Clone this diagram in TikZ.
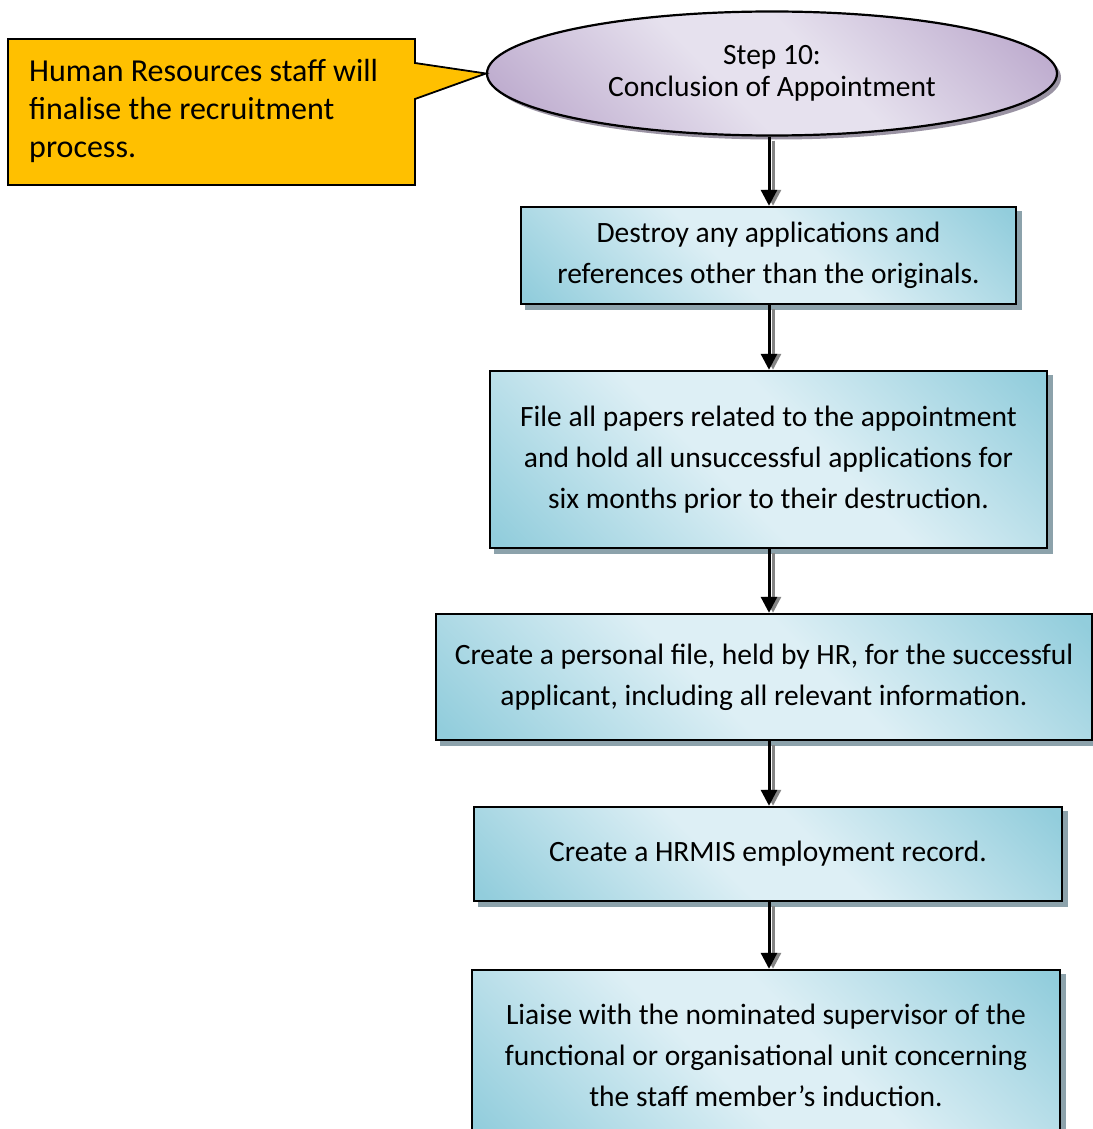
\documentclass[tikz,border=0pt]{standalone}
\usepackage{fontspec}
\setmainfont{Carlito}
\usetikzlibrary{shapes.geometric,arrows.meta,backgrounds}

\definecolor{boxlight}{HTML}{DDEFF5}
\definecolor{boxdark}{HTML}{92CDDC}
\definecolor{boxshadow}{HTML}{8CA2AB}
\definecolor{ovallight}{HTML}{E6E1EE}
\definecolor{ovaldark}{HTML}{BBA8CC}
\definecolor{ovalshadow}{HTML}{9A93A3}
\definecolor{calloutfill}{HTML}{FFC000}
\definecolor{arrowshadow}{HTML}{858585}

% diagonal two-colour fills, dark at both ends and light in the middle
\pgfdeclarehorizontalshading{boxshade}{100bp}{color(0bp)=(boxdark); color(16bp)=(boxdark);
  color(44bp)=(boxlight); color(56bp)=(boxlight); color(84bp)=(boxdark); color(100bp)=(boxdark)}
\pgfdeclarehorizontalshading{ovalshade}{100bp}{color(0bp)=(ovaldark); color(18bp)=(ovaldark);
  color(44bp)=(ovallight); color(56bp)=(ovallight); color(82bp)=(ovaldark); color(100bp)=(ovaldark)}

\tikzset{
  x=1pt, y=1pt,
  stepbox/.style={rectangle, draw=black, line width=2.4pt,
    shading=boxshade, shading angle=45, align=center, inner sep=0pt,
    font=\fontsize{29.5}{41}\selectfont},
  oval/.style={ellipse, draw=black, line width=2.2pt,
    shading=ovalshade, shading angle=45, align=center, inner sep=0pt,
    font=\fontsize{29.5}{32}\selectfont},
  flow/.style={line width=3pt, -{Triangle[width=16pt,length=16pt]}},
  flowshadow/.style={draw=arrowshadow, line width=3pt,
    -{Triangle[width=16pt,length=16pt]}},
}

% shadow behind a box: same outline, moved down and to the right
\newcommand{\castshadow}[2]{%
  \begin{pgfonlayer}{background}
    \fill[#2] ([shift={(5,-5)}]#1.south west) rectangle ([shift={(5,-5)}]#1.north east);
  \end{pgfonlayer}}

% connector with its grey shadow
\newcommand{\linkboxes}[2]{%
  \draw[flowshadow] ([xshift=4,yshift=-4]#1.south -| col) -- ([xshift=4]#2.north -| col);
  \draw[flow] (#1.south -| col) -- (#2.north -| col);}

\begin{document}
\begin{tikzpicture}
  \useasboundingbox (0,0) rectangle (1092,-1129);
  \coordinate (col) at (769,0);

  % start of the step
  \node[oval, minimum width=570, minimum height=124] (st) at (772,-73.5)
    {Step 10:\\Conclusion of Appointment};
  \begin{pgfonlayer}{background}
    \fill[ovalshadow] ([shift={(4,-4)}]st.center) ellipse [x radius=285, y radius=62];
  \end{pgfonlayer}

  % callout
  \coordinate (tip) at (st.west);
  \draw[line width=1.8pt, fill=calloutfill]
    (8,-39) -- (415,-39) -- (415,-63) -- (tip) -- (415,-99) -- (415,-185) -- (8,-185) -- cycle;
  \node[anchor=west, align=left, inner sep=0pt,
        font=\fontsize{32}{38}\selectfont] (note) at (29,-111)
    {Human Resources staff will\\finalise the recruitment\\process.};

  % steps
  \node[stepbox, minimum width=495, minimum height=97] (b1) at (768.5,-255.5)
    {Destroy any applications and\\references other than the originals.};
  \node[stepbox, minimum width=557, minimum height=177] (b2) at (768.5,-459.5)
    {File all papers related to the appointment\\and hold all unsuccessful applications for\\six months prior to their destruction.};
  \node[stepbox, minimum width=656, minimum height=126] (b3) at (764,-677)
    {Create a personal file, held by HR, for the successful\\applicant, including all relevant information.};
  \node[stepbox, minimum width=588, minimum height=94] (b4) at (768,-854)
    {Create a HRMIS employment record.};
  \node[stepbox, minimum width=588, minimum height=170] (b5) at (766,-1055)
    {Liaise with the nominated supervisor of the\\functional or organisational unit concerning\\the staff member’s induction.};

  \castshadow{b1}{boxshadow}
  \castshadow{b2}{boxshadow}
  \castshadow{b3}{boxshadow}
  \castshadow{b4}{boxshadow}
  \castshadow{b5}{boxshadow}

  % connectors
  \linkboxes{st}{b1}
  \linkboxes{b1}{b2}
  \linkboxes{b2}{b3}
  \linkboxes{b3}{b4}
  \linkboxes{b4}{b5}
\end{tikzpicture}
\end{document}
